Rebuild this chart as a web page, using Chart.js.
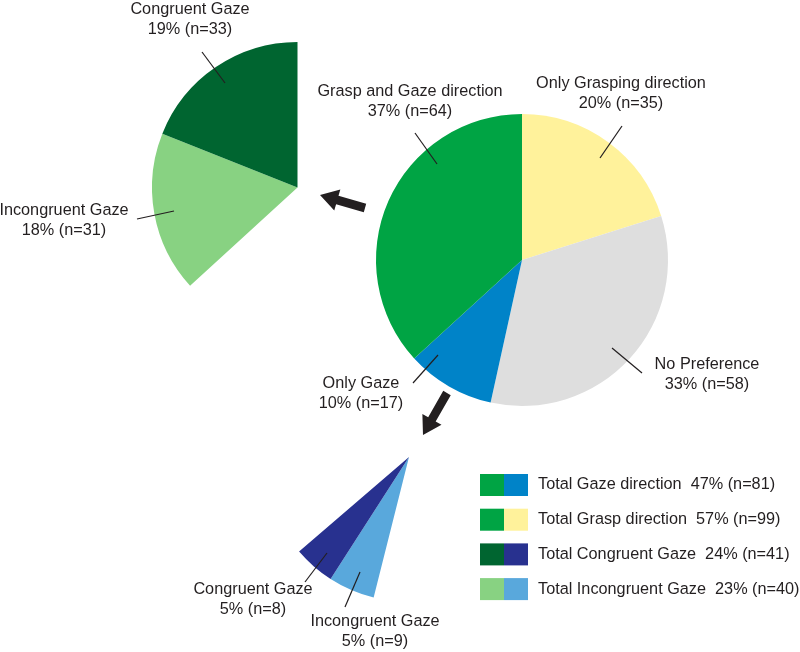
<!DOCTYPE html>
<html>
<head>
<meta charset="utf-8">
<script src="https://cdn.jsdelivr.net/npm/chart.js@4.4.0/dist/chart.umd.min.js"></script>
<style>
  html, body { margin: 0; padding: 0; background: #fff; }
  #wrap { position: relative; width: 800px; height: 652px; overflow: hidden; }
  canvas { position: absolute; }
</style>
</head>
<body>
<div id="wrap">
  <canvas id="gazeSplit" width="291" height="291" style="left:152px;top:42px"></canvas>
  <canvas id="onlyGazeSplit" width="290" height="290" style="left:264px;top:312px"></canvas>
  <canvas id="mainPie" width="800" height="652" style="left:0;top:0"></canvas>
</div>
<script>
// main pie, clockwise from 12 o'clock
const mainLabels = ["Only Grasping direction", "No Preference", "Only Gaze", "Grasp and Gaze direction"];
const mainCounts = [35, 58, 17, 64];
const mainPercents = [20, 33, 10, 37];

// "Grasp and Gaze direction" slice pulled out (upper left)
const gazeSplitLabels = ["Incongruent Gaze", "Congruent Gaze"];
const gazeSplitCounts = [31, 33];
const gazeSplitPercents = [18, 19];

// "Only Gaze" slice pulled out (bottom)
const onlyGazeLabels = ["Incongruent Gaze", "Congruent Gaze"];
const onlyGazeCounts = [9, 8];
const onlyGazePercents = [5, 5];

// legend rows
const legendLabels = ["Total Gaze direction", "Total Grasp direction", "Total Congruent Gaze", "Total Incongruent Gaze"];
const legendPercents = [47, 57, 24, 23];
const legendCounts = [81, 99, 41, 40];

const GREEN = "#00a444", YELLOW = "#fff29b", GREY = "#dedede", BLUE = "#0083c8";
const DKGREEN = "#006530", LTGREEN = "#88d282", NAVY = "#28318f", LTBLUE = "#59a8dc";
const NONE = "rgba(0,0,0,0)";
const INK = "#231f20";
const FONT = "16.25px 'Liberation Sans', Arial, sans-serif";

function txt(label, pct, n) {
  return [label, pct + "% (n=" + n + ")"];
}

// label placement: x centre, y centre of first line, leader line
const annotations = [
  { lines: txt(mainLabels[3], mainPercents[3], mainCounts[3]), x: 410, y: 92, line: [415, 133, 437, 164] },
  { lines: txt(mainLabels[0], mainPercents[0], mainCounts[0]), x: 621, y: 84, line: [622, 126, 600, 158] },
  { lines: txt(mainLabels[1], mainPercents[1], mainCounts[1]), x: 707, y: 365, line: [612, 348, 642, 373] },
  { lines: txt(mainLabels[2], mainPercents[2], mainCounts[2]), x: 361, y: 384, line: [413, 383, 438, 355] },
  { lines: txt(gazeSplitLabels[1], gazeSplitPercents[1], gazeSplitCounts[1]), x: 190, y: 10, line: [202, 52, 225, 83] },
  { lines: txt(gazeSplitLabels[0], gazeSplitPercents[0], gazeSplitCounts[0]), x: 64, y: 211, line: [137, 219, 174, 211] },
  { lines: txt(onlyGazeLabels[1], onlyGazePercents[1], onlyGazeCounts[1]), x: 253, y: 590, line: [305, 582, 327, 553] },
  { lines: txt(onlyGazeLabels[0], onlyGazePercents[0], onlyGazeCounts[0]), x: 375, y: 622, line: [345, 607, 360, 572] }
];

const arrows = [
  { from: [365, 208], to: [320, 195] },
  { from: [447, 393], to: [423, 435] }
];

const legendColors = [[GREEN, BLUE], [GREEN, YELLOW], [DKGREEN, NAVY], [LTGREEN, LTBLUE]];

function drawArrow(ctx, a) {
  const dx = a.to[0] - a.from[0], dy = a.to[1] - a.from[1];
  const len = Math.hypot(dx, dy);
  const ux = dx / len, uy = dy / len, px = -uy, py = ux;
  const head = 18, hw = 11, sw = 4.3;
  const bx = a.to[0] - ux * head, by = a.to[1] - uy * head;
  ctx.beginPath();
  ctx.moveTo(a.from[0] + px * sw, a.from[1] + py * sw);
  ctx.lineTo(bx + px * sw, by + py * sw);
  ctx.lineTo(bx + px * hw, by + py * hw);
  ctx.lineTo(a.to[0], a.to[1]);
  ctx.lineTo(bx - px * hw, by - py * hw);
  ctx.lineTo(bx - px * sw, by - py * sw);
  ctx.lineTo(a.from[0] - px * sw, a.from[1] - py * sw);
  ctx.closePath();
  ctx.fillStyle = INK;
  ctx.fill();
}

const annotate = {
  id: "annotate",
  afterDraw(chart) {
    const ctx = chart.ctx;
    ctx.save();
    ctx.font = FONT;
    ctx.fillStyle = INK;
    ctx.textAlign = "center";
    ctx.textBaseline = "middle";
    ctx.strokeStyle = INK;
    ctx.lineWidth = 1.2;
    annotations.forEach(a => {
      a.lines.forEach((s, i) => ctx.fillText(s, a.x, a.y + i * 20));
      ctx.beginPath();
      ctx.moveTo(a.line[0], a.line[1]);
      ctx.lineTo(a.line[2], a.line[3]);
      ctx.stroke();
    });
    arrows.forEach(a => drawArrow(ctx, a));

    // legend
    ctx.textAlign = "left";
    for (let i = 0; i < legendLabels.length; i++) {
      const top = 474 + i * 34.7;
      ctx.fillStyle = legendColors[i][0];
      ctx.fillRect(480, top, 24, 22);
      ctx.fillStyle = legendColors[i][1];
      ctx.fillRect(504, top, 24, 22);
      ctx.fillStyle = INK;
      ctx.fillText(legendLabels[i] + "  " + legendPercents[i] + "% (n=" + legendCounts[i] + ")", 538, top + 11);
    }
    ctx.restore();
  }
};

function pieOptions(extra) {
  return Object.assign({
    responsive: false,
    animation: false,
    events: [],
    plugins: { legend: { display: false }, tooltip: { enabled: false } }
  }, extra);
}

const arcStyle = { borderWidth: 0, hoverOffset: 0, offset: 0 };

new Chart(document.getElementById("gazeSplit"), {
  type: "pie",
  data: {
    labels: mainLabels.slice(0, 3).concat(gazeSplitLabels),
    datasets: [Object.assign({
      data: mainCounts.slice(0, 3).concat(gazeSplitCounts),
      backgroundColor: [NONE, NONE, NONE, LTGREEN, DKGREEN]
    }, arcStyle)]
  },
  options: pieOptions({})
});

new Chart(document.getElementById("onlyGazeSplit"), {
  type: "pie",
  data: {
    labels: [mainLabels[0], mainLabels[1], onlyGazeLabels[0], onlyGazeLabels[1], mainLabels[3]],
    datasets: [Object.assign({
      data: [mainCounts[0], mainCounts[1], onlyGazeCounts[0], onlyGazeCounts[1], mainCounts[3]],
      backgroundColor: [NONE, NONE, LTBLUE, NAVY, NONE]
    }, arcStyle)]
  },
  options: pieOptions({ rotation: 1.7 })
});

new Chart(document.getElementById("mainPie"), {
  type: "pie",
  data: {
    labels: mainLabels,
    datasets: [Object.assign({
      data: mainCounts,
      backgroundColor: [YELLOW, GREY, BLUE, GREEN]
    }, arcStyle)]
  },
  options: pieOptions({
    layout: { padding: { left: 376, right: 132, top: 114, bottom: 246 } }
  }),
  plugins: [annotate]
});
</script>
</body>
</html>
